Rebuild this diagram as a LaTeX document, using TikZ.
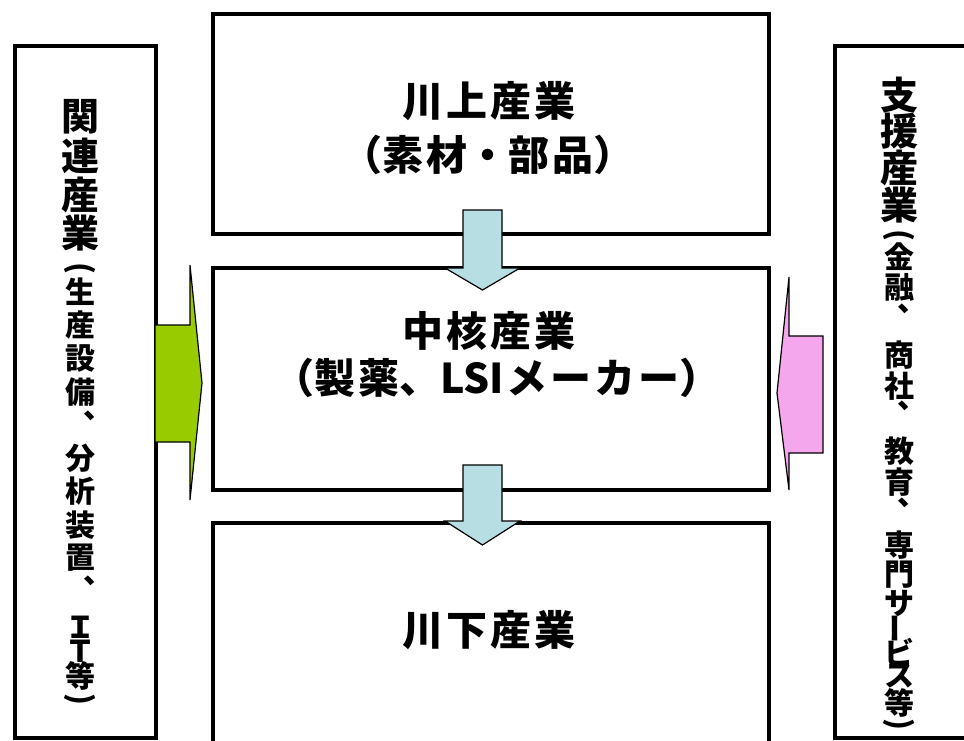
\documentclass[tikz,border=0pt]{standalone}
\usepackage{fontspec}
\usepackage{graphicx}
\newfontfamily\jp{Noto Sans CJK JP}
\definecolor{downblue}{RGB}{183,222,226}
\definecolor{leftgreen}{RGB}{153,204,0}
\definecolor{rightpink}{RGB}{244,167,237}
\newcommand\gp{\hspace{3pt}}
\newcommand\vparo{\rotatebox{-90}{(}}
\newcommand\vparc{\rotatebox{-90}{)}}
\newcommand\vbar{\rotatebox{90}{ー}}
\tikzset{
  box/.style={draw=black, line width=3.6pt, fill=white, rectangle, inner sep=0pt},
  blockarrow/.style={draw=black, line width=1.2pt, line join=miter},
  htext/.style={font=\jp\bfseries\fontsize{41}{48}\selectfont, inner sep=0pt, align=center},
  vhead/.style={font=\jp\bfseries\fontsize{38}{38}\selectfont, inner sep=0pt},
  vsub/.style={font=\jp\bfseries\fontsize{30}{30}\selectfont, inner sep=0pt},
  vcomma/.style={vsub},
}
\begin{document}
\begin{tikzpicture}[x=1pt,y=-1pt]
\useasboundingbox (0,0) rectangle (964,740);
% boxes
\node[box, minimum width=556pt, minimum height=220pt, anchor=north west] (upper) at (211,12) {};
\node[box, minimum width=556pt, minimum height=222pt, anchor=north west] (core) at (211,266) {};
\node[box, minimum width=556pt, minimum height=300pt, anchor=north west] (lower) at (211,521) {};
\node[box, minimum width=141pt, minimum height=692pt, anchor=north west] (related) at (13,44) {};
\node[box, minimum width=200pt, minimum height=692pt, anchor=north west] (support) at (833,44) {};
% block arrows
\draw[blockarrow, fill=downblue] (463,210) -- (502,210) -- (502,268) -- (520,268) -- (482.5,290) -- (445,268) -- (463,268) -- cycle;
\draw[blockarrow, fill=downblue] (463,465) -- (502,465) -- (502,521) -- (520,521) -- (482.5,545) -- (445,521) -- (463,521) -- cycle;
\draw[blockarrow, fill=leftgreen] (155,325) -- (190,325) -- (190,265) -- (202,383) -- (190,500) -- (190,442) -- (155,442) -- cycle;
\draw[blockarrow, fill=rightpink] (823,336) -- (789,336) -- (789,277) -- (777,393) -- (789,490) -- (789,453) -- (823,453) -- cycle;
% horizontal texts
\node[htext] (upperA) at (489,101) {川\gp 上\gp 産\gp 業};
\node[htext] (upperB) at (488,155) {（素\gp 材・部\gp 品）};
\node[htext] (coreA) at (489,331) {中\gp 核\gp 産\gp 業};
\node[htext] (coreB) at (497,378) {（製\gp 薬、LSI\gp メ\gp ー\gp カ\gp ー）};
\node[htext] (lowerA) at (489,630) {川\gp 下\gp 産\gp 業};
% left vertical text
\foreach \ch/\yy [count=\i] in {関/117,連/156,産/195,業/233}
  \node[vhead] (relh\i) at (80,\yy) {\ch};
\foreach \ch/\yy [count=\i] in {\vparo/268,生/292,産/325,設/358,備/392,分/458,析/491,装/525,置/558,Ｉ/627,Ｔ/651,等/676,\vparc/699}
  \node[vsub] (rels\i) at (80,\yy) {\ch};
\node[vcomma] (relc1) at (98,418) {\smash{、}};
\node[vcomma] (relc2) at (98,583) {\smash{、}};
% right vertical text
\foreach \ch/\yy [count=\i] in {支/95,援/131,産/168,業/205}
  \node[vhead] (suph\i) at (899,\yy) {\ch};
\foreach \ch/\yy [count=\i] in {\vparo/235,金/257,融/287,商/355,社/386,教/451,育/482,専/545,門/575,サ/603,\vbar/628,ビ/652,ス/676,等/703,\vparc/724}
  \node[vsub] (sups\i) at (899,\yy) {\ch};
\node[vcomma] (supc1) at (912,311) {\smash{、}};
\node[vcomma] (supc2) at (912,408) {\smash{、}};
\node[vcomma] (supc3) at (912,505) {\smash{、}};
\end{tikzpicture}
\end{document}
